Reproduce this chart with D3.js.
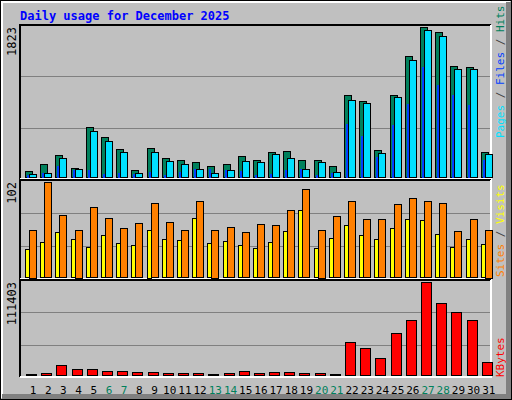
<!DOCTYPE html>
<html>
<head>
<meta charset="utf-8">
<script src="https://cdn.jsdelivr.net/npm/d3@7"></script>
<style>
  body { margin: 0; background: #fff; }
  text { font-family: "DejaVu Sans Mono", monospace; }
</style>
</head>
<body>
<div id="chart"></div>
<script>
// Daily usage data, December 2025
var days = d3.range(1, 32);
var weekend = [6, 7, 13, 14, 20, 21, 27, 28];
var hits = [78, 153, 264, 115, 610, 487, 338, 91, 350, 227, 202, 177, 128, 153, 252, 202,
            301, 313, 202, 202, 128, 994, 920, 326, 994, 1476, 1823, 1761, 1353, 1340, 301];
var files = [41, 54, 227, 103, 561, 437, 301, 54, 301, 190, 153, 103, 54, 91, 190, 177,
             276, 227, 103, 177, 66, 932, 895, 289, 969, 1427, 1786, 1712, 1316, 1316, 276];
var pages = [20, 50, 130, 80, 80, 40, 50, 40, 60, 30, 60, 100, 103, 80, 70, 30,
             40, 80, 103, 30, 50, 647, 503, 240, 635, 882, 1340, 1122, 993, 869, 203];
var visits = [30, 38, 48, 41, 32, 45, 37, 34, 51, 41, 40, 63, 37, 39, 34, 31,
              38, 49, 72, 31, 42, 56, 45, 41, 53, 62, 61, 46, 32, 41, 35];
var sites = [51, 102, 67, 51, 75, 63, 53, 58, 79, 59, 50, 82, 51, 54, 48, 57,
             56, 72, 95, 51, 66, 82, 62, 62, 78, 85, 82, 79, 49, 62, 51];
var kbytes = [1600, 2800, 11400, 7700, 7700, 5300, 5300, 4000, 4000, 2800, 2800, 2800, 1600, 2800, 5300, 2800,
              4000, 4000, 2800, 2800, 1600, 39400, 32100, 19900, 50400, 66300, 111403, 85800, 76000, 66300, 15000];

var W = 512, H = 400, L = 20, R = 491;

var svg = d3.select("#chart").append("svg")
  .attr("width", W).attr("height", H);

// frame
svg.append("rect").attr("width", W).attr("height", H).attr("fill", "#c0c0c0");
svg.append("path").attr("d", "M1.5,398V1.5H510").attr("fill", "none").attr("stroke", "#fff").attr("stroke-width", 3);
svg.append("path").attr("d", "M2,396.5H508.5V2").attr("fill", "none").attr("stroke", "#808080").attr("stroke-width", 5);
svg.append("rect").attr("x", 0.5).attr("y", 0.5).attr("width", W - 1).attr("height", H - 1)
  .attr("fill", "none").attr("stroke", "#000");

svg.append("text").attr("x", 20).attr("y", 20)
  .attr("font-size", 12).attr("font-weight", "bold").attr("fill", "#0000ff")
  .text("Daily usage for December 2025");

var x = d3.scaleBand().domain(days).range([L, R]);

function panel(top, bottom, max, label) {
  var y = d3.scaleLinear().domain([0, max]).range([bottom - 2, top + 2]);
  svg.append("path").attr("d", "M" + L + "," + bottom + "V" + top + "H" + R)
    .attr("fill", "none").attr("stroke", "#000").attr("stroke-width", 2);
  svg.append("path").attr("d", "M" + L + "," + bottom + "H" + R + "V" + top)
    .attr("fill", "none").attr("stroke", "#fff").attr("stroke-width", 2);
  [1 / 3, 2 / 3].forEach(function(f) {
    var gy = Math.round(bottom - (bottom - top) * f) + 0.5;
    svg.append("line").attr("x1", L + 1).attr("x2", R - 1).attr("y1", gy).attr("y2", gy)
      .attr("stroke", "#808080");
  });
  svg.append("text")
    .attr("transform", "translate(16," + (top + 2) + ") rotate(-90)")
    .attr("text-anchor", "end").attr("font-size", 12).attr("fill", "#000")
    .text(label);
  return y;
}

function bars(y, data, off, w, color, stroke) {
  svg.append("g").selectAll("rect").data(data).enter().append("rect")
    .attr("x", function(d, i) { return Math.round(x(days[i])) + off + 0.5; })
    .attr("y", function(d) { return Math.round(y(d)) + 0.5; })
    .attr("width", w)
    .attr("height", function(d) { return Math.max(0, Math.round(y(0) - y(d))); })
    .attr("fill", color).attr("stroke", stroke || "#000");
}

var y1 = panel(25, 179, 1823, "1823");
bars(y1, hits, 5, 7, "#00805c");
bars(y1, files, 9, 7, "#00e0ff");
bars(y1, pages, 7, 1, "#0040ff", "#0040ff");

var y2 = panel(180, 279, 102, "102");
bars(y2, visits, 5, 4, "#ffff00");
bars(y2, sites, 9, 7, "#ff8000");

var y3 = panel(280, 377, 111403, "111403");
bars(y3, kbytes, 6, 10, "#ff0000");

// day labels
svg.append("g").selectAll("text").data(days).enter().append("text")
  .attr("x", function(d) { return x(d) + 13; })
  .attr("y", 394).attr("text-anchor", "middle").attr("font-size", 11)
  .attr("fill", function(d) { return weekend.indexOf(d) >= 0 ? "#00805c" : "#000"; })
  .text(function(d) { return d; });

// right legends
function legend(yEnd, parts) {
  var t = svg.append("text")
    .attr("transform", "translate(504," + yEnd + ") rotate(-90)")
    .attr("font-size", 11);
  parts.forEach(function(p) { t.append("tspan").attr("fill", p[1]).text(p[0]); });
}
legend(138, [["Pages", "#00e0ff"], [" / ", "#404040"], ["Files", "#0040ff"], [" / ", "#404040"], ["Hits", "#00805c"]]);
legend(277, [["Sites", "#ff8000"], [" / ", "#404040"], ["Visits", "#ffff00"]]);
legend(377, [["KBytes", "#ff0000"]]);
</script>
</body>
</html>
